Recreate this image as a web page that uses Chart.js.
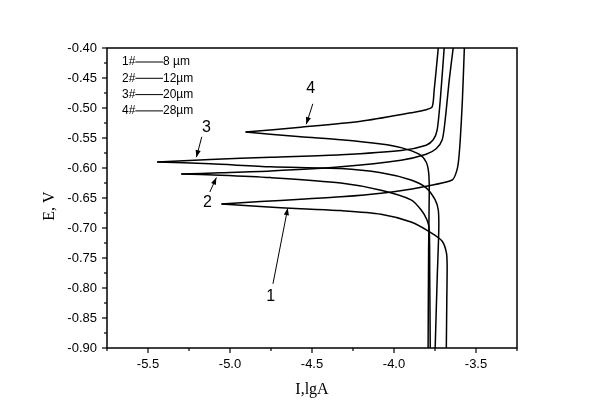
<!DOCTYPE html>
<html><head><meta charset="utf-8">
<script src="https://cdn.jsdelivr.net/npm/chart.js@4.4.1/dist/chart.umd.min.js"></script>
<style>html,body{margin:0;padding:0;background:#fff;}</style>
</head><body>
<canvas id="c" width="600" height="417"></canvas>
<script>
// ---- axis setup ----
const xRange = [-5.75, -3.25];
const yRange = [-0.90, -0.40];
const xTicks = [-5.5, -5.0, -4.5, -4.0, -3.5];
const yTicks = [-0.40, -0.45, -0.50, -0.55, -0.60, -0.65, -0.70, -0.75, -0.80, -0.85, -0.90];
const xMinorStep = 0.25;
const yMinorStep = 0.025;
const xTitle = "I,lgA";
const yTitle = "E, V";

// ---- legend text ----
const legendIds = ["1#", "2#", "3#", "4#"];
const legendSizes = ["8 µm", "12µm", "20µm", "28µm"];

// ---- curve data: [lgI, E] ----
const curve1Cathodic = [[-3.681,-0.900],[-3.678,-0.820],[-3.676,-0.765],[-3.680,-0.742],[-3.706,-0.722],[-3.773,-0.708],[-3.896,-0.690],[-4.079,-0.677],[-4.324,-0.671],[-4.569,-0.668],[-4.814,-0.664],[-5.052,-0.660]];
const curve1Anodic   = [[-5.052,-0.660],[-4.814,-0.656],[-4.569,-0.652],[-4.324,-0.648],[-4.079,-0.642],[-3.834,-0.632],[-3.645,-0.620],[-3.620,-0.607],[-3.608,-0.592],[-3.596,-0.553],[-3.583,-0.487],[-3.571,-0.400]];
const curve2Cathodic = [[-3.779,-0.900],[-3.782,-0.787],[-3.785,-0.703],[-3.798,-0.687],[-3.834,-0.670],[-3.896,-0.653],[-4.079,-0.637],[-4.324,-0.625],[-4.752,-0.616],[-5.058,-0.612],[-5.297,-0.610]];
const curve2Anodic   = [[-5.297,-0.610],[-5.058,-0.608],[-4.752,-0.605],[-4.324,-0.598],[-3.957,-0.587],[-3.804,-0.577],[-3.743,-0.568],[-3.706,-0.553],[-3.688,-0.520],[-3.663,-0.453],[-3.639,-0.400]];
const curve3Cathodic = [[-3.749,-0.900],[-3.737,-0.787],[-3.727,-0.703],[-3.730,-0.670],[-3.749,-0.653],[-3.804,-0.633],[-3.896,-0.620],[-4.079,-0.608],[-4.324,-0.601],[-4.752,-0.598],[-5.120,-0.593],[-5.444,-0.590]];
const curve3Anodic   = [[-5.444,-0.590],[-5.120,-0.586],[-4.752,-0.582],[-4.324,-0.578],[-3.957,-0.571],[-3.804,-0.562],[-3.761,-0.553],[-3.737,-0.537],[-3.718,-0.487],[-3.694,-0.400]];
const curve4Cathodic = [[-3.792,-0.900],[-3.789,-0.737],[-3.785,-0.637],[-3.789,-0.607],[-3.804,-0.590],[-3.847,-0.577],[-3.957,-0.566],[-4.079,-0.560],[-4.324,-0.553],[-4.569,-0.548],[-4.905,-0.540]];
const curve4Anodic   = [[-4.905,-0.540],[-4.569,-0.532],[-4.202,-0.522],[-3.896,-0.508],[-3.804,-0.503],[-3.767,-0.498],[-3.755,-0.470],[-3.743,-0.437],[-3.730,-0.400]];

// ---- curve annotations: label text, label position, arrow tail, arrow head (data coords) ----
const noteTexts = ["1", "2", "3", "4"];
const notePos   = [[-4.752,-0.815],[-5.138,-0.658],[-5.144,-0.532],[-4.508,-0.467]];
const noteTail  = [[-4.738,-0.793],[-5.123,-0.640],[-5.172,-0.548],[-4.495,-0.493]];
const noteHead  = [[-4.648,-0.667],[-5.083,-0.616],[-5.205,-0.582],[-4.535,-0.527]];

const curves = [curve1Cathodic, curve1Anodic, curve2Cathodic, curve2Anodic, curve3Cathodic, curve3Anodic, curve4Cathodic, curve4Anodic];

const datasets = curves.map(c => ({
  data: c.map(p => ({x: p[0], y: p[1]})),
  showLine: true,
  borderColor: '#000',
  borderWidth: 1.5,
  pointRadius: 0,
  tension: 0.25,
  fill: false
}));

const sans = "'Liberation Sans', Arial, sans-serif";
const serif = "'Liberation Serif', 'Times New Roman', serif";

function arrow(ctx, x1, y1, x2, y2) {
  ctx.beginPath(); ctx.moveTo(x1, y1); ctx.lineTo(x2, y2); ctx.stroke();
  const a = Math.atan2(y2 - y1, x2 - x1), L = 7, W = 2.6;
  ctx.beginPath();
  ctx.moveTo(x2, y2);
  ctx.lineTo(x2 - L*Math.cos(a) + W*Math.sin(a), y2 - L*Math.sin(a) - W*Math.cos(a));
  ctx.lineTo(x2 - L*Math.cos(a) - W*Math.sin(a), y2 - L*Math.sin(a) + W*Math.cos(a));
  ctx.closePath(); ctx.fill();
}

const decor = {
  id: 'decor',
  afterDraw(chart) {
    const ctx = chart.ctx, a = chart.chartArea;
    const xs = chart.scales.x, ys = chart.scales.y;
    ctx.save();
    ctx.strokeStyle = '#000'; ctx.fillStyle = '#000';
    // frame
    ctx.lineWidth = 1.5;
    ctx.strokeRect(a.left, a.top, a.right - a.left, a.bottom - a.top);
    // ticks
    ctx.lineWidth = 1.2;
    const nx = Math.round((xRange[1] - xRange[0]) / xMinorStep);
    for (let i = 0; i <= nx; i++) {
      const v = xRange[0] + i * xMinorStep;
      const major = xTicks.some(t => Math.abs(t - v) < 1e-6);
      const px = xs.getPixelForValue(v);
      ctx.beginPath(); ctx.moveTo(px, a.bottom); ctx.lineTo(px, a.bottom + (major ? 5 : 3)); ctx.stroke();
    }
    const ny = Math.round((yRange[1] - yRange[0]) / yMinorStep);
    for (let i = 0; i <= ny; i++) {
      const v = yRange[0] + i * yMinorStep;
      const major = yTicks.some(t => Math.abs(t - v) < 1e-6);
      const py = ys.getPixelForValue(v);
      ctx.beginPath(); ctx.moveTo(a.left, py); ctx.lineTo(a.left - (major ? 5 : 3), py); ctx.stroke();
    }
    // legend text block
    ctx.font = '12px ' + sans;
    ctx.textBaseline = 'middle'; ctx.textAlign = 'left';
    ctx.lineWidth = 1;
    legendIds.forEach((id, i) => {
      const y = a.top + 14 + i * 16.3;
      const x0 = a.left + 15;
      ctx.fillText(id, x0, y);
      const w = ctx.measureText(id).width;
      ctx.beginPath(); ctx.moveTo(x0 + w, y); ctx.lineTo(x0 + 41, y); ctx.stroke();
      ctx.fillText(legendSizes[i], x0 + 41, y);
    });
    // curve labels + arrows
    ctx.font = '16px ' + sans;
    ctx.textAlign = 'center';
    ctx.lineWidth = 1;
    noteTexts.forEach((t, i) => {
      ctx.fillText(t, xs.getPixelForValue(notePos[i][0]), ys.getPixelForValue(notePos[i][1]));
      arrow(ctx, xs.getPixelForValue(noteTail[i][0]), ys.getPixelForValue(noteTail[i][1]),
                 xs.getPixelForValue(noteHead[i][0]), ys.getPixelForValue(noteHead[i][1]));
    });
    // axis titles
    ctx.font = '16px ' + serif;
    ctx.textAlign = 'center';
    ctx.fillText(xTitle, (a.left + a.right) / 2, 390);
    ctx.translate(50, (a.top + a.bottom) / 2 + 8);
    ctx.rotate(-Math.PI / 2);
    ctx.fillText(yTitle, 0, 0);
    ctx.restore();
  }
};

new Chart(document.getElementById('c'), {
  type: 'scatter',
  data: { datasets },
  options: {
    responsive: false,
    animation: false,
    devicePixelRatio: 1,
    layout: { padding: { left: 0, top: 48, right: 83, bottom: 0 } },
    plugins: { legend: { display: false }, tooltip: { enabled: false } },
    scales: {
      x: {
        type: 'linear', min: xRange[0], max: xRange[1],
        afterBuildTicks: s => { s.ticks = xTicks.map(v => ({ value: v })); },
        afterFit: s => { s.height = 69; },
        ticks: { callback: v => Number(v).toFixed(1), font: { family: sans, size: 13 }, color: '#000', padding: 9, maxRotation: 0, autoSkip: false },
        grid: { display: false, drawTicks: false, tickLength: 0 },
        border: { display: false }
      },
      y: {
        type: 'linear', min: yRange[0], max: yRange[1],
        afterBuildTicks: s => { s.ticks = yTicks.map(v => ({ value: v })); },
        afterFit: s => { s.width = 107; },
        ticks: { callback: v => Number(v).toFixed(2), font: { family: sans, size: 13 }, color: '#000', padding: 10, autoSkip: false },
        grid: { display: false, drawTicks: false, tickLength: 0 },
        border: { display: false }
      }
    }
  },
  plugins: [decor]
});
</script>
</body></html>
